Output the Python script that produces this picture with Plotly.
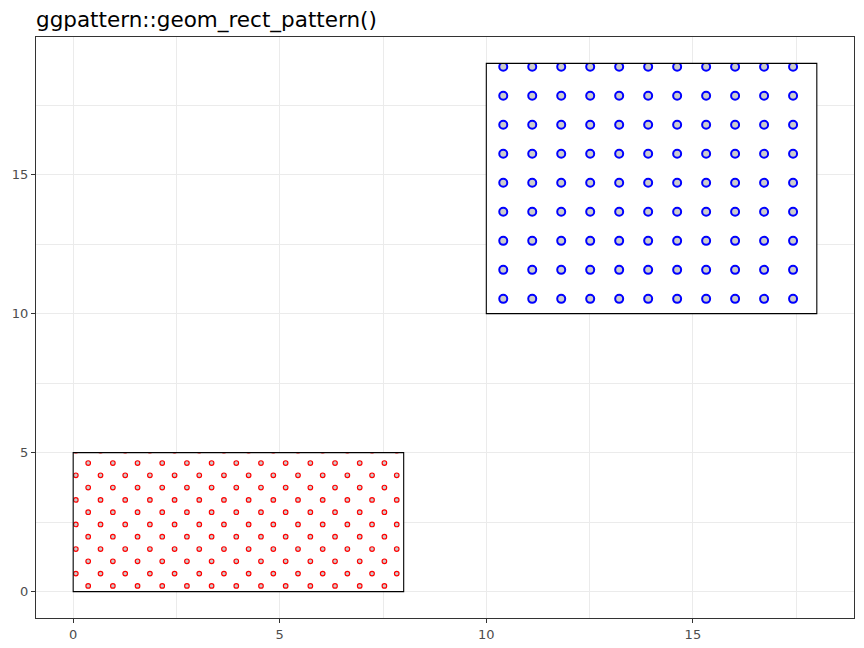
import plotly.graph_objects as go

# ---- data: rectangles ----
rect_xmin = [0, 10]
rect_xmax = [8, 18]
rect_ymin = [0, 10]
rect_ymax = [5, 19]
pattern_colour = ["red", "blue"]
pattern_fill = ["#CCCCCC", "#CCCCCC"]

# ---- pattern grid parameters ----
pat_x0 = [0.363, 10.41]
pat_y0 = [0.205, 10.53]
pat_dx = [0.5975, 0.7015]
pat_dy = [0.442, 1.0436]
pat_stagger = [True, False]

# ---- axis ticks ----
major_ticks = [0, 5, 10, 15]
title_text = "ggpattern::geom_rect_pattern()"

# ggplot-like 5% expansion
xlo, xhi = min(rect_xmin), max(rect_xmax)
ylo, yhi = min(rect_ymin), max(rect_ymax)
xr = [xlo - 0.05 * (xhi - xlo), xhi + 0.05 * (xhi - xlo)]
yr = [ylo - 0.05 * (yhi - ylo), yhi + 0.05 * (yhi - ylo)]

fig = go.Figure()

# white rectangle fills on main axes
for i in range(len(rect_xmin)):
    fig.add_trace(go.Scatter(
        x=[rect_xmin[i], rect_xmax[i], rect_xmax[i], rect_xmin[i], rect_xmin[i]],
        y=[rect_ymin[i], rect_ymin[i], rect_ymax[i], rect_ymax[i], rect_ymin[i]],
        mode="lines", fill="toself", fillcolor="white",
        line=dict(width=0, color="white"), hoverinfo="skip", showlegend=False,
        xaxis="x", yaxis="y"))

layout_axes = {}
for i in range(len(rect_xmin)):
    px, py = [], []
    k = 0
    y = pat_y0[i]
    while y <= rect_ymax[i] + pat_dy[i]:
        x = pat_x0[i] - (pat_dx[i] / 2 if (pat_stagger[i] and k % 2 == 1) else 0)
        while x <= rect_xmax[i] + pat_dx[i] / 2:
            px.append(x)
            py.append(y)
            x += pat_dx[i]
        k += 1
        y += pat_dy[i]
    n = i + 2
    big = pattern_colour[i] == "blue"
    fig.add_trace(go.Scatter(
        x=px, y=py, mode="markers", cliponaxis=True,
        marker=dict(size=8 if big else 4.6, color=pattern_fill[i],
                    line=dict(color=pattern_colour[i], width=2.0 if big else 1.15)),
        hoverinfo="skip", showlegend=False,
        xaxis=f"x{n}", yaxis=f"y{n}"))
    layout_axes[f"xaxis{n}"] = dict(
        domain=[(rect_xmin[i] - xr[0]) / (xr[1] - xr[0]), (rect_xmax[i] - xr[0]) / (xr[1] - xr[0])],
        range=[rect_xmin[i], rect_xmax[i]], anchor=f"y{n}", visible=False, fixedrange=True)
    layout_axes[f"yaxis{n}"] = dict(
        domain=[(rect_ymin[i] - yr[0]) / (yr[1] - yr[0]), (rect_ymax[i] - yr[0]) / (yr[1] - yr[0])],
        range=[rect_ymin[i], rect_ymax[i]], anchor=f"x{n}", visible=False, fixedrange=True)
    # border above everything
    fig.add_shape(type="rect", xref="x", yref="y",
                  x0=rect_xmin[i], x1=rect_xmax[i], y0=rect_ymin[i], y1=rect_ymax[i],
                  line=dict(color="black", width=1.1), fillcolor="rgba(0,0,0,0)", layer="above")

axis_common = dict(
    showgrid=True, gridcolor="#EBEBEB", gridwidth=1.1,
    zeroline=False, showline=True, linecolor="#333333", linewidth=1.1, mirror=True,
    ticks="outside", ticklen=4, tickcolor="#333333", tickwidth=1.1,
    tickfont=dict(family="DejaVu Sans", size=13, color="#4D4D4D"),
    tickvals=major_ticks, automargin=False,
    minor=dict(showgrid=True, gridcolor="#EBEBEB", gridwidth=0.55, dtick=2.5, tick0=0, ticks=""),
)

fig.update_layout(
    template="none",
    width=864, height=648,
    margin=dict(l=36, r=10, t=37, b=30, autoexpand=False),
    paper_bgcolor="white", plot_bgcolor="rgba(0,0,0,0)",
    xaxis=dict(range=xr, domain=[0, 1], anchor="y", **axis_common),
    yaxis=dict(range=yr, domain=[0, 1], anchor="x", **axis_common),
    title=dict(text=title_text, x=0, xref="paper", xanchor="left",
               y=1 - 19 / 648, yref="container", yanchor="middle", automargin=False,
               font=dict(family="DejaVu Sans", size=21.5, color="black")),
    showlegend=False,
    **layout_axes,
)

fig.write_html("out.html", config={"displayModeBar": False},
               post_script="document.body.style.margin='0';document.body.style.padding='0';")
